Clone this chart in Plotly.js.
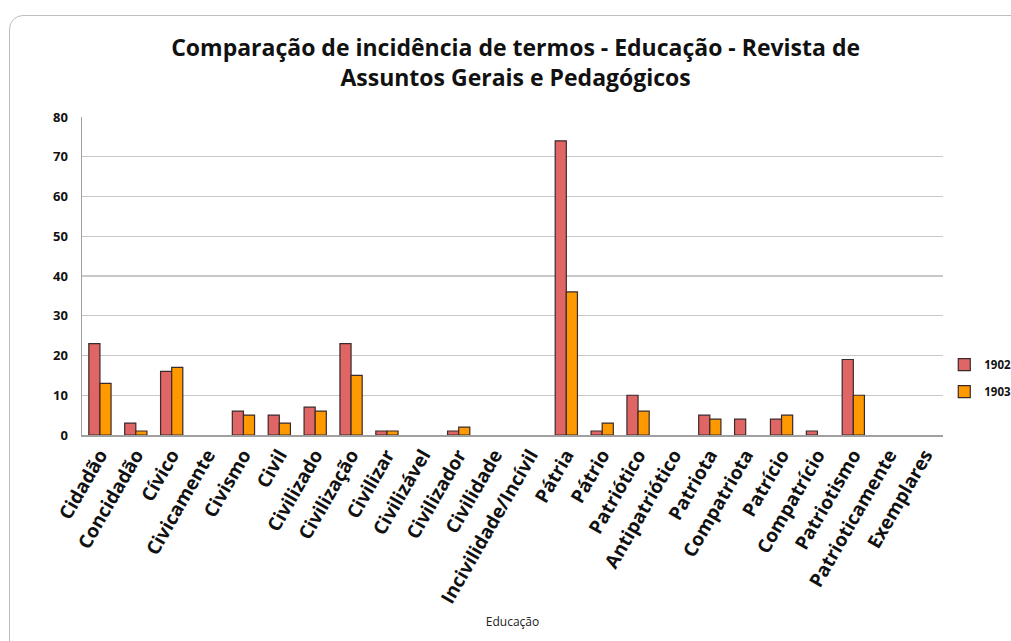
<!DOCTYPE html>
<html>
<head>
<meta charset="utf-8">
<script src="https://cdn.plot.ly/plotly-3.0.1.min.js"></script>
<style>
html,body{margin:0;padding:0;background:#fff;}
#frame{position:absolute;left:9px;top:15px;width:1040px;height:700px;border:1.5px solid #bdbdbd;border-radius:14px;}
#chart{position:absolute;left:0;top:0;width:1011px;height:641px;}
</style>
</head>
<body>
<div id="frame"></div>
<div id="chart"></div>
<script>
const categories = ["Cidadão","Concidadão","Cívico","Civicamente","Civismo","Civil","Civilizado","Civilização","Civilizar","Civilizável","Civilizador","Civilidade","Incivilidade/Incívil","Pátria","Pátrio","Patriótico","Antipatriótico","Patriota","Compatriota","Patrício","Compatrício","Patriotismo","Patrioticamente","Exemplares"];
const values1902 = [23,3,16,0,6,5,7,23,1,0,1,0,0,74,1,10,0,5,4,4,1,19,0,0];
const values1903 = [13,1,17,0,5,3,6,15,1,0,2,0,0,36,3,6,0,4,0,5,0,10,0,0];
const yTicks = [0,10,20,30,40,50,60,70,80];

const fontFam = "'Open Sans',sans-serif";
const hideZero = v => (v === 0 ? null : v);

const traces = [
  {type:'bar', name:'1902', x:categories, y:values1902.map(hideZero), legendgroup:'a',
   marker:{color:'#e06666', line:{color:'#3a2a2a', width:1.2}}},
  {type:'bar', name:'1903', x:categories, y:values1903.map(hideZero), legendgroup:'b',
   marker:{color:'#ff9900', line:{color:'#3a2a2a', width:1.2}}}
];

const layout = {
  width:1011, height:641,
  paper_bgcolor:'rgba(0,0,0,0)', plot_bgcolor:'rgba(0,0,0,0)',
  margin:{l:82, r:68, t:117, b:206},
  bargap:0.38, bargroupgap:0,
  title:{text:'<b>Comparação de incidência de termos - Educação - Revista de<br>Assuntos Gerais e Pedagógicos</b>',
         x:0.51, xref:'container', y:0.912, yref:'container', yanchor:'middle',
         font:{family:fontFam, size:23, color:'#111'}},
  xaxis:{type:'category', tickangle:-60, showgrid:false, showline:true, linecolor:'#a0a0a0', linewidth:1.5,
         ticks:'', tickfont:{family:fontFam, size:19, color:'#111', weight:'bold'},
         title:{text:'Educação', font:{family:fontFam, size:12, color:'#222'}, standoff:10},
         automargin:false},
  yaxis:{range:[0,80], tickvals:yTicks, showgrid:true, gridcolor:'#c8c8c8', gridwidth:1.2,
         showline:true, linecolor:'#a0a0a0', linewidth:1.5, zeroline:false,
         ticks:'', ticklabelstandoff:10,
         tickfont:{family:fontFam, size:13, color:'#111', weight:'bold'}},
  legend:{x:0.934, xref:'container', y:0.41, yref:'container', xanchor:'left', yanchor:'middle', bgcolor:'rgba(0,0,0,0)',
          font:{family:fontFam, size:11.5, color:'#111', weight:'bold'}, tracegroupgap:8, itemwidth:30},
  showlegend:true
};

Plotly.newPlot('chart', traces, layout, {displayModeBar:false, staticPlot:true});
</script>
</body>
</html>
